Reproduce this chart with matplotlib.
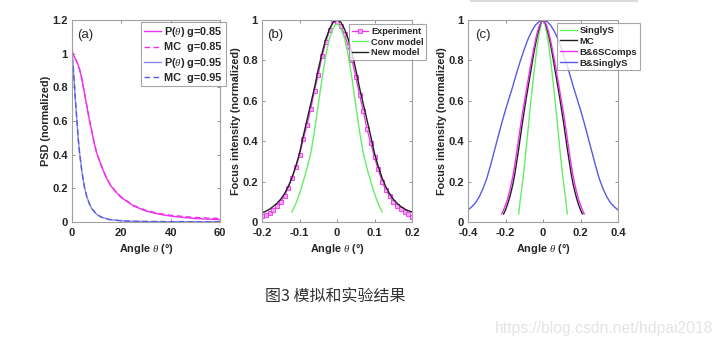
import numpy as np
import matplotlib
matplotlib.use("Agg")
import matplotlib.pyplot as plt
from matplotlib.lines import Line2D

plt.rcParams['font.family'] = ['Liberation Sans', 'DejaVu Sans']
plt.rcParams['mathtext.fontset'] = 'custom'
plt.rcParams['mathtext.it'] = 'Liberation Serif:italic'

# ---- panel (a): PSD vs angle
a_th85 = [0, 1, 2, 3, 4, 5, 6, 7, 8, 9, 10, 12, 14, 16, 18, 20, 25, 30, 35, 40, 45, 50, 55, 60]
a_p85 = [1.0, 0.98, 0.95, 0.91, 0.85, 0.77, 0.69, 0.61, 0.54, 0.47, 0.41, 0.33, 0.26, 0.21,
         0.175, 0.145, 0.095, 0.065, 0.047, 0.035, 0.027, 0.021, 0.017, 0.014]
a_mc85 = [1.02, 0.98, 0.95, 0.91, 0.85, 0.77, 0.69, 0.61, 0.54, 0.47, 0.41, 0.33, 0.26, 0.21,
          0.177, 0.148, 0.098, 0.069, 0.051, 0.04, 0.033, 0.027, 0.023, 0.021]
a_th95 = [0, 0.5, 1, 1.5, 2, 2.5, 3, 4, 5, 6, 7, 8, 10, 12, 15, 20, 25, 30, 40, 50, 60]
a_p95 = [1.0, 0.92, 0.81, 0.7, 0.6, 0.5, 0.42, 0.3, 0.21, 0.15, 0.11, 0.08, 0.045, 0.028, 0.015,
         0.007, 0.004, 0.003, 0.002, 0.001, 0.001]
a_mc95_th = [0, 0.05, 0.5, 1, 1.5, 2, 2.5, 3, 4, 5, 6, 7, 8, 10, 12, 15, 20, 25, 30, 40, 50, 60]
a_mc95 = [1.3, 1.0, 0.92, 0.81, 0.7, 0.6, 0.5, 0.42, 0.3, 0.21, 0.15, 0.11, 0.08, 0.045, 0.028,
          0.015, 0.007, 0.004, 0.003, 0.002, 0.001, 0.001]

# ---- panel (b): focus intensity
b_exp_x = [-0.2, -0.19, -0.18, -0.17, -0.16, -0.15, -0.14, -0.13, -0.12, -0.11, -0.1, -0.09, -0.08,
           -0.07, -0.06, -0.05, -0.04, -0.03, -0.02, -0.01, 0.0, 0.01, 0.02, 0.03, 0.04, 0.05, 0.06,
           0.07, 0.08, 0.09, 0.1, 0.11, 0.12, 0.13, 0.14, 0.15, 0.16, 0.17, 0.18, 0.19, 0.2]
b_exp_y = [0.03, 0.035, 0.045, 0.06, 0.08, 0.10, 0.13, 0.17, 0.22, 0.27, 0.33, 0.41, 0.48,
           0.56, 0.65, 0.73, 0.82, 0.89, 0.95, 1.0, 0.99, 0.97, 0.93, 0.87, 0.80, 0.72, 0.63,
           0.55, 0.46, 0.39, 0.32, 0.26, 0.20, 0.16, 0.13, 0.10, 0.08, 0.065, 0.05, 0.04, 0.025]
b_conv_x = [-0.12, -0.11, -0.10, -0.09, -0.08, -0.07, -0.06, -0.05, -0.04, -0.03, -0.02, -0.01,
            -0.005, 0, 0.005, 0.01, 0.02, 0.03, 0.04, 0.05, 0.06, 0.07, 0.08, 0.09, 0.10, 0.11, 0.12]
b_conv_y = [0.05, 0.09, 0.14, 0.20, 0.265, 0.34, 0.45, 0.58, 0.71, 0.825, 0.91, 0.96,
            0.975, 0.98, 0.975, 0.96, 0.91, 0.825, 0.71, 0.58, 0.45, 0.34, 0.265, 0.20, 0.14, 0.09, 0.05]
b_new_x = [-0.2, -0.19, -0.18, -0.17, -0.16, -0.15, -0.14, -0.13, -0.12, -0.11, -0.1, -0.09, -0.08,
           -0.07, -0.06, -0.05, -0.04, -0.03, -0.02, -0.01, 0.0, 0.01, 0.02, 0.03, 0.04, 0.05, 0.06,
           0.07, 0.08, 0.09, 0.1, 0.11, 0.12, 0.13, 0.14, 0.15, 0.16, 0.17, 0.18, 0.19, 0.2]
b_new_y = [0.045, 0.053, 0.063, 0.077, 0.093, 0.113, 0.14, 0.175, 0.22, 0.275, 0.34, 0.425, 0.505,
           0.585, 0.665, 0.755, 0.835, 0.905, 0.955, 0.99, 1.0, 0.99, 0.955, 0.905, 0.835, 0.755,
           0.665, 0.585, 0.505, 0.425, 0.34, 0.275, 0.22, 0.175, 0.14, 0.113, 0.093, 0.077, 0.065,
           0.056, 0.05]

# ---- panel (c)
c_ss_x = [-0.13, -0.12, -0.11, -0.1, -0.09, -0.08, -0.07, -0.06, -0.05, -0.04, -0.03, -0.025,
          -0.02, -0.015, -0.01, -0.005, 0, 0.005, 0.01, 0.015, 0.02, 0.025, 0.03, 0.04, 0.05,
          0.06, 0.07, 0.08, 0.09, 0.1, 0.11, 0.12, 0.13]
c_ss_y = [0.04, 0.12, 0.19, 0.27, 0.36, 0.455, 0.55, 0.64, 0.725, 0.805, 0.875, 0.905,
          0.935, 0.96, 0.98, 0.995, 1.0, 0.995, 0.98, 0.96, 0.935, 0.905, 0.875, 0.805, 0.725,
          0.64, 0.55, 0.455, 0.36, 0.27, 0.19, 0.12, 0.04]
c_mc_x = [-0.21, -0.2, -0.19, -0.18, -0.17, -0.16, -0.15, -0.14, -0.13, -0.12, -0.11, -0.1, -0.09,
          -0.08, -0.07, -0.06, -0.05, -0.04, -0.03, -0.02, -0.01, 0, 0.01, 0.02, 0.03, 0.04, 0.05,
          0.06, 0.07, 0.08, 0.09, 0.1, 0.11, 0.12, 0.13, 0.14, 0.15, 0.16, 0.17, 0.18, 0.19, 0.2, 0.21]
c_mc_y = [0.04, 0.06, 0.085, 0.115, 0.15, 0.19, 0.24, 0.30, 0.36, 0.425, 0.49, 0.55, 0.61,
          0.665, 0.72, 0.775, 0.83, 0.88, 0.925, 0.96, 0.99, 1.0, 0.99, 0.96, 0.925, 0.88, 0.83,
          0.775, 0.72, 0.665, 0.61, 0.55, 0.49, 0.425, 0.36, 0.30, 0.24, 0.19, 0.15, 0.115, 0.085,
          0.06, 0.04]
c_b6_x = [-0.22, -0.21, -0.2, -0.19, -0.18, -0.17, -0.16, -0.15, -0.14, -0.13, -0.12, -0.11, -0.1,
          -0.09, -0.08, -0.07, -0.06, -0.05, -0.04, -0.03, -0.02, -0.01, 0, 0.01, 0.02, 0.03, 0.04,
          0.05, 0.06, 0.07, 0.08, 0.09, 0.1, 0.11, 0.12, 0.13, 0.14, 0.15, 0.16, 0.17, 0.18, 0.19,
          0.2, 0.21, 0.22]
c_b6_y = [0.04, 0.06, 0.085, 0.11, 0.145, 0.185, 0.23, 0.285, 0.345, 0.41, 0.475, 0.535, 0.59,
          0.645, 0.70, 0.755, 0.805, 0.855, 0.90, 0.94, 0.97, 0.99, 1.0, 0.99, 0.97, 0.94, 0.90,
          0.855, 0.805, 0.755, 0.70, 0.645, 0.59, 0.535, 0.475, 0.41, 0.345, 0.285, 0.23, 0.185,
          0.145, 0.11, 0.085, 0.06, 0.04]
c_bs_x = [-0.4, -0.38, -0.36, -0.34, -0.32, -0.3, -0.28, -0.26, -0.24, -0.22, -0.2, -0.18, -0.16,
          -0.14, -0.12, -0.1, -0.08, -0.06, -0.04, -0.02, 0, 0.02, 0.04, 0.06, 0.08, 0.1, 0.12,
          0.14, 0.16, 0.18, 0.2, 0.22, 0.24, 0.26, 0.28, 0.3, 0.32, 0.34, 0.36, 0.38, 0.4]
c_bs_y = [0.06, 0.075, 0.095, 0.125, 0.165, 0.215, 0.28, 0.35, 0.42, 0.49, 0.555, 0.615, 0.675,
          0.74, 0.80, 0.855, 0.905, 0.945, 0.975, 0.993, 1.0, 0.993, 0.975, 0.945, 0.905, 0.855,
          0.80, 0.74, 0.675, 0.615, 0.555, 0.49, 0.42, 0.35, 0.28, 0.215, 0.165, 0.125, 0.095,
          0.075, 0.06]

MAG = '#ee30ee'
BLU = '#5a5ae0'
GRN = '#66ee66'
BLK = '#202020'
TXT = '#262626'
W, H = 726, 346

fig = plt.figure(figsize=(7.26, 3.46), dpi=100)


def px_axes(l, r, t, b):
    return fig.add_axes([l / W, 1 - b / H, (r - l) / W, (b - t) / H])


def style(ax):
    ax.tick_params(direction='in', length=2.5, width=0.6, colors='#808080',
                   labelcolor=TXT, labelsize=8, top=True, right=True)
    ax.tick_params(axis='x', pad=4)
    ax.tick_params(axis='y', pad=3)
    for s in ax.spines.values():
        s.set_color('#a0a0a0')
        s.set_linewidth(0.8)
    for lab in ax.get_xticklabels() + ax.get_yticklabels():
        lab.set_fontweight('bold')


def fmt(v):
    return '%g' % v


def legend(ax, x, y, fs=7, sp=0.15, hl=1.8):
    lg = ax.legend(loc='upper left', bbox_to_anchor=(x / W, 1 - y / H),
                   bbox_transform=fig.transFigure, frameon=True,
                   fancybox=False, borderaxespad=0, handlelength=hl, handletextpad=0.3,
                   borderpad=0.3, labelspacing=sp, prop={'weight': 'bold', 'size': fs})
    lg.get_frame().set_edgecolor('#909090')
    lg.get_frame().set_linewidth(0.8)
    for t in lg.get_texts():
        t.set_color(TXT)
    return lg


xlab = r'Angle $\theta$ (°)'


def labels(ax, ylab):
    ax.set_ylabel(ylab, fontsize=7.8, fontweight='bold', color=TXT, labelpad=1)
    ax.set_xlabel(xlab, fontsize=7.8, fontweight='bold', color=TXT, labelpad=3)


# (a)
ax = px_axes(72, 220, 20, 222)
ax.plot(a_th85, a_p85, color=MAG, lw=1.0, label=r'P($\theta$) g=0.85')
ax.plot(a_th85, a_mc85, color=MAG, lw=1.0, ls='--', dashes=(4, 2.5), label='MC  g=0.85')
ax.plot(a_th95, a_p95, color='#8a8ae8', lw=1.0, label=r'P($\theta$) g=0.95')
ax.plot(a_mc95_th, a_mc95, color=BLU, lw=1.0, ls='--', dashes=(4, 2.5), label='MC  g=0.95')
ax.set_xlim(0, 60)
ax.set_ylim(0, 1.2)
ax.set_xticks([0, 20, 40, 60])
ax.set_yticks([0, 0.2, 0.4, 0.6, 0.8, 1.0, 1.2])
ax.set_yticklabels([fmt(v) for v in [0, 0.2, 0.4, 0.6, 0.8, 1.0, 1.2]])
style(ax)
labels(ax, 'PSD (normalized)')
ax.text(77 / W, 1 - 35 / H, '(a)', transform=fig.transFigure, fontsize=9.5, color=TXT, va='center')
legend(ax, 141, 22, fs=7.8, sp=0.3, hl=1.5)

# (b)
ax = px_axes(262, 412, 20, 222)
ax.plot(b_exp_x, b_exp_y, color=MAG, lw=0.9, marker='s', ms=3, mfc='#f4a8f4', mec=MAG,
        mew=0.6, label='Experiment')
ax.plot(b_conv_x, b_conv_y, color=GRN, lw=1.0, label='Conv model')
ax.plot(b_new_x, b_new_y, color=BLK, lw=1.0, label='New model')
ax.set_xlim(-0.2, 0.2)
ax.set_ylim(0, 1)
ax.set_xticks([-0.2, -0.1, 0, 0.1, 0.2])
ax.set_xticklabels([fmt(v) for v in [-0.2, -0.1, 0, 0.1, 0.2]])
ax.set_yticks([0, 0.2, 0.4, 0.6, 0.8, 1.0])
ax.set_yticklabels([fmt(v) for v in [0, 0.2, 0.4, 0.6, 0.8, 1.0]])
style(ax)
labels(ax, 'Focus intensity (normalized)')
ax.text(267 / W, 1 - 35 / H, '(b)', transform=fig.transFigure, fontsize=9.5, color=TXT, va='center')
legend(ax, 349, 24, fs=6.6, sp=0.2, hl=1.8)

# (c)
ax = px_axes(468, 618, 20, 222)
ax.plot(c_ss_x, c_ss_y, color=GRN, lw=1.0, label='SinglyS')
ax.plot(c_mc_x, c_mc_y, color=BLK, lw=1.0, label='MC')
ax.plot(c_b6_x, c_b6_y, color=MAG, lw=1.0, label='B&6SComps')
ax.plot(c_bs_x, c_bs_y, color=BLU, lw=1.0, label='B&SinglyS')
ax.set_xlim(-0.4, 0.4)
ax.set_ylim(0, 1)
ax.set_xticks([-0.4, -0.2, 0, 0.2, 0.4])
ax.set_xticklabels([fmt(v) for v in [-0.4, -0.2, 0, 0.2, 0.4]])
ax.set_yticks([0, 0.2, 0.4, 0.6, 0.8, 1.0])
ax.set_yticklabels([fmt(v) for v in [0, 0.2, 0.4, 0.6, 0.8, 1.0]])
style(ax)
labels(ax, 'Focus intensity (normalized)')
ax.text(475 / W, 1 - 35 / H, '(c)', transform=fig.transFigure, fontsize=9.5, color=TXT, va='center')
legend(ax, 557, 23, fs=6.8, sp=0.2, hl=1.8)

# thin grey bar at the top
fig.add_artist(Line2D([471 / W, 637 / W], [1 - 1 / H, 1 - 1 / H], transform=fig.transFigure,
                      color='#d8dcdc', lw=1.5))

fig.text(265 / W, 1 - 297 / H, '图3 模拟和实验结果', fontsize=11.5, color='#333333',
         family=['Noto Sans CJK SC', 'DejaVu Sans'], va='center', ha='left')
fig.text(713 / W, 1 - 328 / H, 'https://blog.csdn.net/hdpai2018', fontsize=11.3, color='#e4e4e4',
         family=['Liberation Sans', 'DejaVu Sans'], va='center', ha='right')

fig.savefig('out.png', dpi=100)
